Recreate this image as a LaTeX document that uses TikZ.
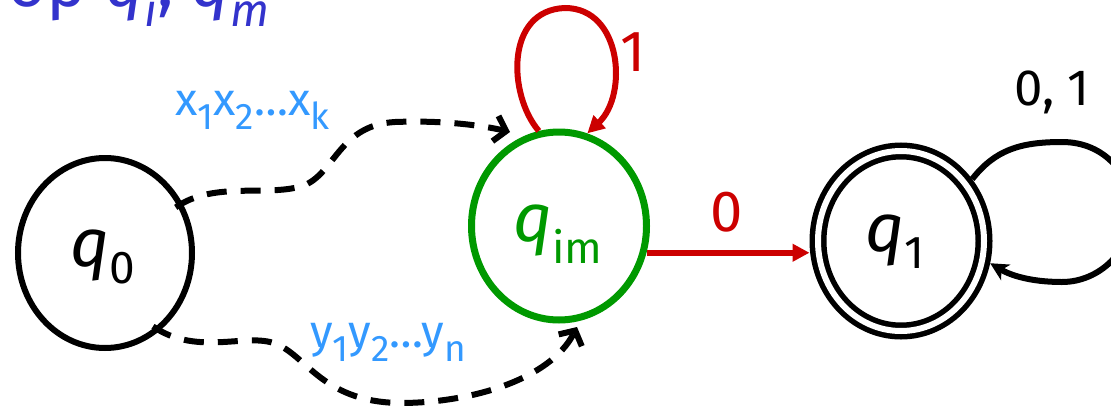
\documentclass[tikz,border=0pt]{standalone}
\usepackage{fontspec}
\setmainfont{Fira Sans}
\usetikzlibrary{shapes.geometric,arrows.meta,calc}
\definecolor{myred}{RGB}{204,0,0}
\definecolor{mygreen}{RGB}{0,153,0}
\definecolor{lblue}{RGB}{51,153,255}
\definecolor{dblue}{RGB}{51,51,204}
\newcommand\lowsub[3]{\raisebox{-#1}{\fontsize{#2}{#2}\selectfont #3}}
\tikzset{
  state/.style={ellipse,draw,line width=6pt,inner sep=0pt},
  qtxt/.style={inner sep=0pt,anchor=base west,font=\fontsize{68}{68}\selectfont},
  lbl/.style={inner sep=0pt},
  dasharrow/.style={line width=6pt,dash pattern=on 20pt off 14pt,
    -{Straight Barb[length=11pt,width=26pt]}},
  redarrow/.style={myred,line width=6pt,-{Triangle[length=17pt,width=17pt]}},
  blackloop/.style={line width=6pt,-{Stealth[length=18pt,width=18pt,inset=5pt]}}
}
\begin{document}
\begin{tikzpicture}[x=1pt,y=-1pt]
\useasboundingbox (0,0) rectangle (1111,407);
\clip (0,0) rectangle (1111,407);

% title (cut off at top)
\node[inner sep=0pt,anchor=base east,text=dblue,font=\fontsize{68}{68}\selectfont]
  (title) at (270,6) {op \textit{q}\lowsub{20pt}{46}{\textit{i}}, \textit{q}\lowsub{20pt}{46}{\textit{m}}};

% states
\node[state,minimum width=174pt,minimum height=190pt] (q0) at (105,253) {};
\node[state,draw=mygreen,line width=7pt,minimum width=175pt,minimum height=188pt] (qim) at (559,226) {};
\node[state,line width=5.5pt,double,double distance=6pt,minimum width=166pt,minimum height=180pt,outer sep=8.5pt] (q1) at (901,241) {};

\node[qtxt] (q0t) at (70,266) {\textit{q}\lowsub{17pt}{46}{0}};
\node[qtxt,text=mygreen] (qimt) at (513,241) {\textit{q}\lowsub{22pt}{44}{im}};
\node[qtxt] (q1t) at (865,251) {\textit{q}\lowsub{17pt}{46}{1}};

% red self loop on q_im
\coordinate (rtop) at (565,8);
\draw[redarrow] (qim.102) .. controls (508,95) and (505,10) .. (rtop)
  .. controls (622,8) and (628,95) .. (qim.73);
\node[lbl,text=myred,font=\fontsize{58}{58}\selectfont] (l1) at (633,52) {1};

% red edge q_im -> q1
\draw[redarrow] (qim.-17) -- (qim.-17 -| q1.west);
\node[lbl,text=myred,font=\fontsize{58}{58}\selectfont] (l0) at (727,212) {0};

% black self loop on q1
\coordinate (ltop) at (1062,142);
\coordinate (lright) at (1132,212);
\coordinate (lbot) at (1062,282);
\draw[blackloop] (q1.41) .. controls (995,150) and (1020,142) .. (ltop)
  .. controls (1105,142) and (1132,175) .. (lright)
  .. controls (1132,250) and (1100,282) .. (lbot)
  .. controls (1030,282) and (1010,275) .. (q1.-14);
\node[lbl,font=\fontsize{51}{51}\selectfont] (l01) at (1052,92) {0, 1};

% dashed path x
\coordinate (xend) at (510,132);
\coordinate (xa) at (305,185);
\coordinate (xb) at (395,122);
\draw[dasharrow,shorten <=-8pt] (q0.33) .. controls (215,180) and (270,198) .. (xa)
  .. controls (335,172) and (340,125) .. (xb)
  .. controls (445,120) and (485,126) .. (xend);
\node[inner sep=0pt,anchor=base west,text=lblue,font=\fontsize{46}{46}\selectfont]
  (lx) at (175,115) {x\lowsub{14pt}{37}{1}x\lowsub{14pt}{37}{2}…x\lowsub{14pt}{37}{k}};

% dashed path y
\coordinate (yend) at (577,327);
\coordinate (ya) at (270,342);
\coordinate (yb) at (400,403);
\draw[dasharrow,shorten <=-8pt] (q0.-55) .. controls (195,355) and (240,335) .. (ya)
  .. controls (305,350) and (318,402) .. (yb)
  .. controls (470,403) and (550,380) .. (yend);
\node[inner sep=0pt,anchor=base west,text=lblue,font=\fontsize{46}{46}\selectfont]
  (ly) at (310,347) {y\lowsub{14pt}{37}{1}y\lowsub{14pt}{37}{2}…y\lowsub{14pt}{37}{n}};
\end{tikzpicture}
\end{document}
